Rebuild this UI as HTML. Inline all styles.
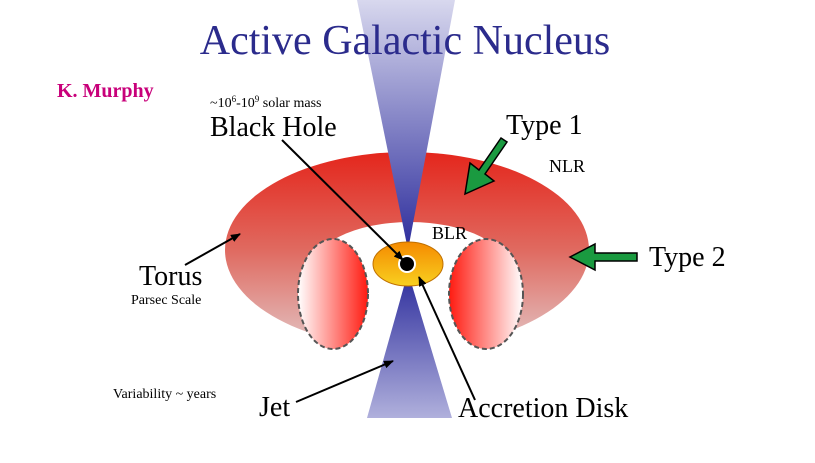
<!DOCTYPE html>
<html><head><style>
html,body{margin:0;padding:0;background:#fff;}
svg{display:block;}
text{font-family:"Liberation Serif",serif;}
</style></head><body>
<svg width="815" height="463" viewBox="0 0 815 463" xmlns="http://www.w3.org/2000/svg">
<defs>
<linearGradient id="tor" x1="0" y1="0" x2="0" y2="1">
<stop offset="0" stop-color="#e4261c"/><stop offset="0.5" stop-color="#e06a60"/><stop offset="1" stop-color="#e2c4c4"/>
</linearGradient>
<linearGradient id="jt" x1="0" y1="0" x2="0" y2="1">
<stop offset="0" stop-color="#d8d8ee"/><stop offset="1" stop-color="#2c2c9c"/>
</linearGradient>
<linearGradient id="jb" x1="0" y1="0" x2="0" y2="1">
<stop offset="0" stop-color="#2c2c9c"/><stop offset="1" stop-color="#b0b0dc"/>
</linearGradient>
<linearGradient id="cl" x1="0" y1="0" x2="1" y2="0">
<stop offset="0" stop-color="#ffffff"/><stop offset="1" stop-color="#ff1a10"/>
</linearGradient>
<linearGradient id="cr" x1="0" y1="0" x2="1" y2="0">
<stop offset="0" stop-color="#ff1a10"/><stop offset="1" stop-color="#ffffff"/>
</linearGradient>
<linearGradient id="dk" x1="0" y1="0" x2="0" y2="1">
<stop offset="0" stop-color="#f58a00"/><stop offset="1" stop-color="#f8d020"/>
</linearGradient>
<marker id="ah" markerWidth="10" markerHeight="8" refX="9" refY="4" orient="auto" markerUnits="userSpaceOnUse">
<path d="M0,0 L10,4 L0,8 Z" fill="#000"/></marker>
</defs>

<!-- torus -->
<ellipse cx="407" cy="250" rx="182" ry="98" fill="url(#tor)"/>
<ellipse cx="410" cy="272" rx="100" ry="50" fill="#fff"/>
<rect x="333" y="270" width="153" height="140" fill="#fff"/>
<ellipse cx="333" cy="294" rx="35" ry="55" fill="url(#cl)" stroke="#555" stroke-width="2" stroke-dasharray="5,3"/>
<ellipse cx="486" cy="294" rx="37" ry="55" fill="url(#cr)" stroke="#555" stroke-width="2" stroke-dasharray="5,3"/>

<!-- jets -->
<polygon points="357,0 455,0 408,250" fill="url(#jt)"/>
<polygon points="408,272 367,418 452,418" fill="url(#jb)"/>

<text x="405" y="54" font-size="42" fill="#2b2b8c" text-anchor="middle">Active Galactic Nucleus</text>
<text x="57" y="97" font-size="20" font-weight="bold" fill="#c8007a">K. Murphy</text>

<!-- disk -->
<ellipse cx="408" cy="264" rx="35" ry="22" fill="url(#dk)" stroke="#c07000" stroke-width="1"/>
<circle cx="407" cy="264" r="8" fill="#000" stroke="#fff" stroke-width="2"/>

<!-- labels -->
<text x="210" y="107" font-size="14">~10<tspan font-size="9" dy="-5">6</tspan><tspan dy="5">-10</tspan><tspan font-size="9" dy="-5">9</tspan><tspan dy="5"> solar mass</tspan></text>
<text x="210" y="136" font-size="28">Black Hole</text>
<text x="506" y="134" font-size="28">Type 1</text>
<text x="549" y="172" font-size="18">NLR</text>
<text x="432" y="239" font-size="18">BLR</text>
<text x="649" y="266" font-size="28">Type 2</text>
<text x="139" y="285" font-size="28">Torus</text>
<text x="131" y="304" font-size="14">Parsec Scale</text>
<text x="113" y="398" font-size="14">Variability ~ years</text>
<text x="259" y="416" font-size="28">Jet</text>
<text x="458" y="417" font-size="28">Accretion Disk</text>

<!-- black arrows -->
<line x1="282" y1="140" x2="403" y2="260" stroke="#000" stroke-width="2" marker-end="url(#ah)"/>
<line x1="185" y1="265" x2="240" y2="234" stroke="#000" stroke-width="2" marker-end="url(#ah)"/>
<line x1="296" y1="402" x2="393" y2="361" stroke="#000" stroke-width="2" marker-end="url(#ah)"/>
<line x1="475" y1="400" x2="419" y2="277" stroke="#000" stroke-width="2" marker-end="url(#ah)"/>

<!-- green arrows -->
<polygon points="501,138 507,142 485,174 494,181 465,194 470,163 479,170" fill="#1a9a40" stroke="#000" stroke-width="1.5"/>
<polygon points="637,253 637,261 595,261 595,270 570,257 595,244 595,253" fill="#1a9a40" stroke="#000" stroke-width="1.5"/>
</svg>
</body></html>
